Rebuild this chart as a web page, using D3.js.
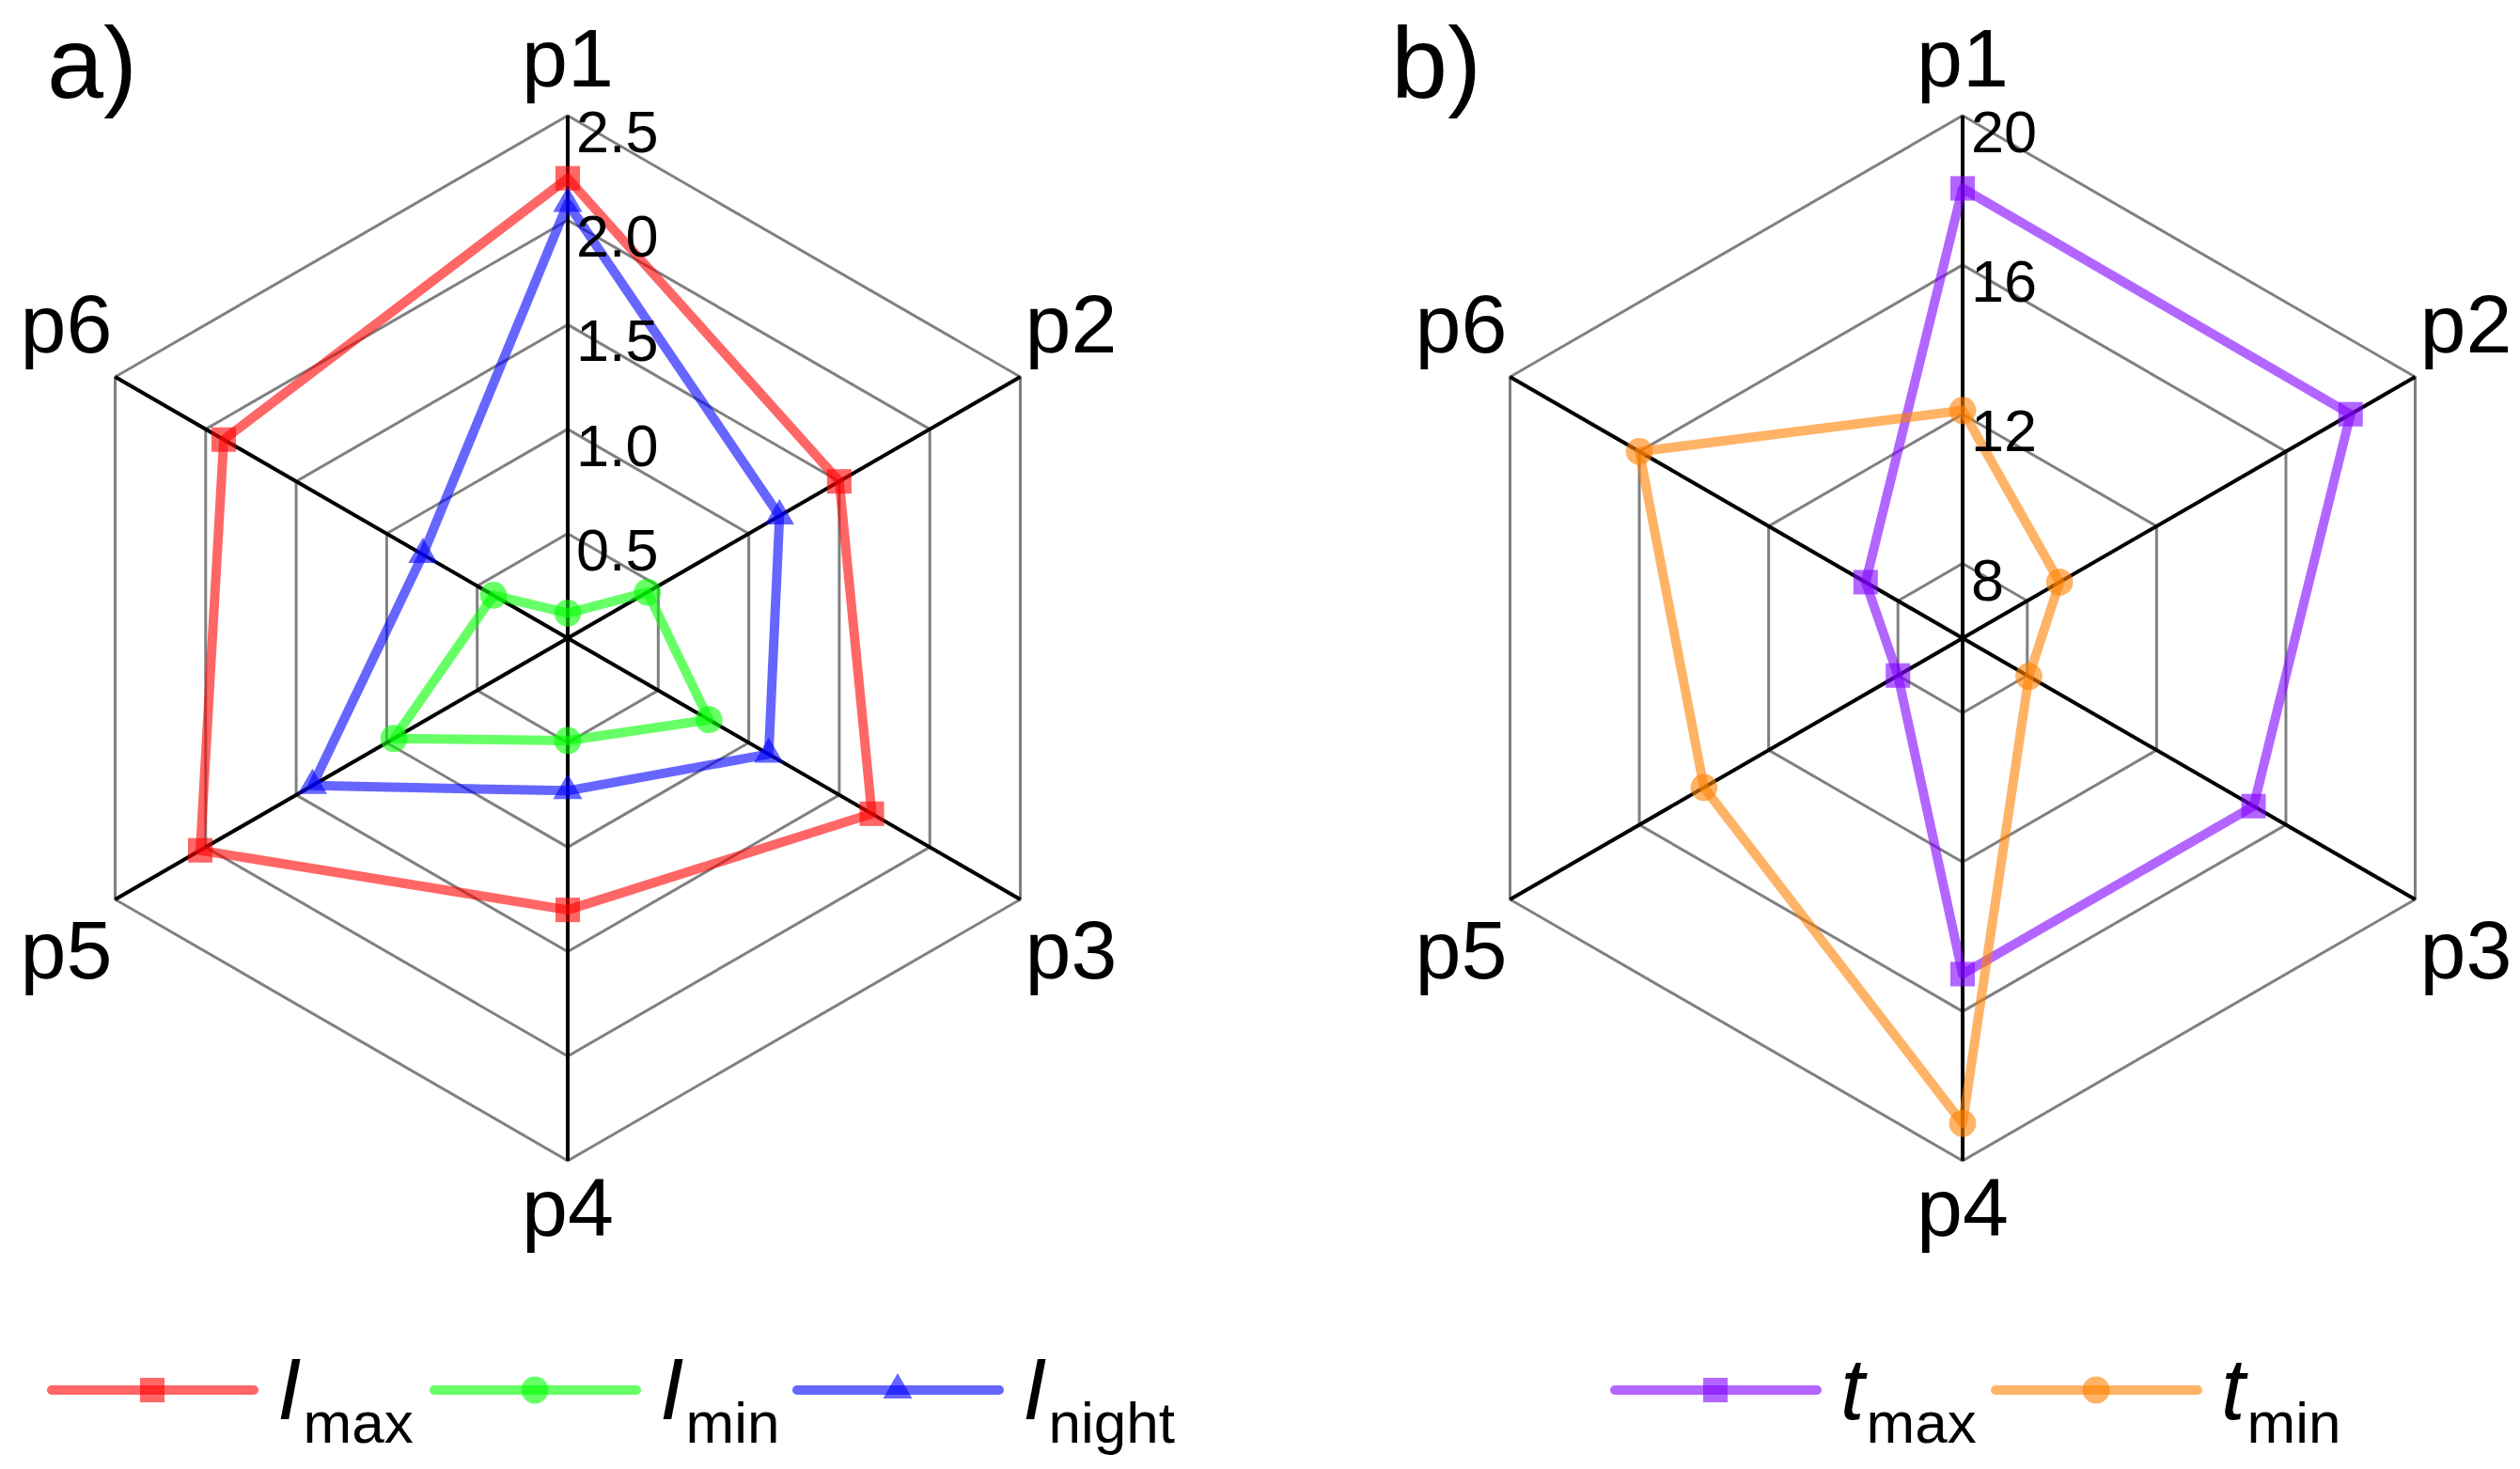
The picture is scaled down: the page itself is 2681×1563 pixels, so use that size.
<!DOCTYPE html>
<html>
<head>
<meta charset="utf-8">
<script src="https://cdn.jsdelivr.net/npm/d3@7"></script>
<style>
  html, body { margin: 0; padding: 0; background: #fff; }
  svg { display: block; font-family: "Liberation Sans", Arial, sans-serif; }
</style>
</head>
<body>
<svg id="chart" width="2681" height="1563"></svg>
<script>
// values
const categories = ["p1", "p2", "p3", "p4", "p5", "p6"];

const iMax = [2.2, 1.5, 1.68, 1.3, 2.03, 1.9];
const iMin = [0.12, 0.44, 0.78, 0.49, 0.96, 0.41];
const iNight = [2.08, 1.17, 1.11, 0.73, 1.41, 0.8];

const tMax = [18.05, 18.0, 15.0, 15.0, 8.0, 9.0];
const tMin = [12.1, 9.0, 8.05, 19.0, 14.0, 16.0];

const ticksA = [0.5, 1.0, 1.5, 2.0, 2.5];
const tickLabelsA = ["0.5", "1.0", "1.5", "2.0", "2.5"];
const ticksB = [8, 12, 16, 20];
const tickLabelsB = ["8", "12", "16", "20"];

const svg = d3.select("#chart");
const R = 556;

const panels = [
  {
    letter: "a)", letterX: 50, cx: 604, cy: 679, domain: [0, 2.5],
    ticks: ticksA, tickLabels: tickLabelsA,
    series: [
      { main: "I", sub: "max", values: iMax, color: "#ff0000", symbol: d3.symbolSquare, size: 680 },
      { main: "I", sub: "min", values: iMin, color: "#00ff00", symbol: d3.symbolCircle, size: 650 },
      { main: "I", sub: "night", values: iNight, color: "#0000ff", symbol: d3.symbolTriangle, size: 420 },
    ],
    legendX: [55, 462, 848],
  },
  {
    letter: "b)", letterX: 1480, cx: 2088, cy: 679, domain: [6, 20],
    ticks: ticksB, tickLabels: tickLabelsB,
    series: [
      { main: "t", sub: "max", values: tMax, color: "#8000ff", symbol: d3.symbolSquare, size: 680 },
      { main: "t", sub: "min", values: tMin, color: "#ff8000", symbol: d3.symbolCircle, size: 650 },
    ],
    legendX: [1718, 2123],
  },
];

// label placement around the outer hexagon, per category
const labelAnchor = ["middle", "start", "start", "middle", "end", "end"];
const labelDx = [0, 5, 5, 0, -3, -3];
const labelDy = [-31, -26, 84, 80, 84, -26];

const angle = d3.scalePoint().domain(categories).range([0, 2 * Math.PI * 5 / 6]);

function drawPanel(p) {
  const r = d3.scaleLinear().domain(p.domain).range([0, R]);
  const g = svg.append("g").attr("transform", `translate(${p.cx},${p.cy})`);
  const xy = (c, v) => [Math.sin(angle(c)) * r(v), -Math.cos(angle(c)) * r(v)];

  const ring = d3.lineRadial()
    .angle((c) => angle(c))
    .curve(d3.curveLinearClosed);

  g.append("g").selectAll("path")
    .data(p.ticks)
    .join("path")
    .attr("d", (t) => ring.radius(r(t))(categories))
    .attr("fill", "none")
    .attr("stroke", "#808080")
    .attr("stroke-width", 3);

  g.append("g").selectAll("line")
    .data(categories)
    .join("line")
    .attr("x1", 0).attr("y1", 0)
    .attr("x2", (c) => xy(c, p.domain[1])[0])
    .attr("y2", (c) => xy(c, p.domain[1])[1])
    .attr("stroke", "#000")
    .attr("stroke-width", 4);

  p.series.forEach((s) => {
    const line = d3.lineRadial()
      .angle((d, i) => angle(categories[i]))
      .radius((d) => r(d))
      .curve(d3.curveLinearClosed);

    g.append("path")
      .attr("d", line(s.values))
      .attr("fill", "none")
      .attr("stroke", s.color)
      .attr("stroke-opacity", 0.6)
      .attr("stroke-width", 10)
      .attr("stroke-linejoin", "round");

    g.append("g").selectAll("path")
      .data(s.values)
      .join("path")
      .attr("transform", (d, i) => `translate(${xy(categories[i], d)})`)
      .attr("d", d3.symbol(s.symbol, s.size))
      .attr("fill", s.color)
      .attr("fill-opacity", 0.6);
  });

  g.append("g").selectAll("text")
    .data(p.ticks)
    .join("text")
    .attr("x", 9)
    .attr("y", (t) => -r(t) + 39)
    .attr("font-size", 63)
    .text((t, i) => p.tickLabels[i]);

  g.append("g").selectAll("text")
    .data(categories)
    .join("text")
    .attr("x", (c, i) => xy(c, p.domain[1])[0] + labelDx[i])
    .attr("y", (c, i) => xy(c, p.domain[1])[1] + labelDy[i])
    .attr("text-anchor", (c, i) => labelAnchor[i])
    .attr("font-size", 88)
    .text((c) => c);

  svg.append("text")
    .attr("x", p.letterX)
    .attr("y", 104)
    .attr("font-size", 108)
    .text(p.letter);

  // legend
  const legendY = 1479;
  const item = svg.append("g").selectAll("g")
    .data(p.series)
    .join("g")
    .attr("transform", (s, i) => `translate(${p.legendX[i]},${legendY})`);

  item.append("line")
    .attr("x1", 0).attr("x2", 215)
    .attr("stroke", (s) => s.color)
    .attr("stroke-opacity", 0.6)
    .attr("stroke-width", 10)
    .attr("stroke-linecap", "round");

  item.append("path")
    .attr("transform", "translate(107,0)")
    .attr("d", (s) => d3.symbol(s.symbol, s.size)())
    .attr("fill", (s) => s.color)
    .attr("fill-opacity", 0.6);

  const label = item.append("text")
    .attr("x", 240)
    .attr("y", 31);
  label.append("tspan")
    .attr("font-style", "italic")
    .attr("font-size", 92)
    .text((s) => s.main);
  label.append("tspan")
    .attr("font-size", 62)
    .attr("dx", 2)
    .attr("dy", 25)
    .text((s) => s.sub);
}

panels.forEach(drawPanel);
</script>
</body>
</html>
